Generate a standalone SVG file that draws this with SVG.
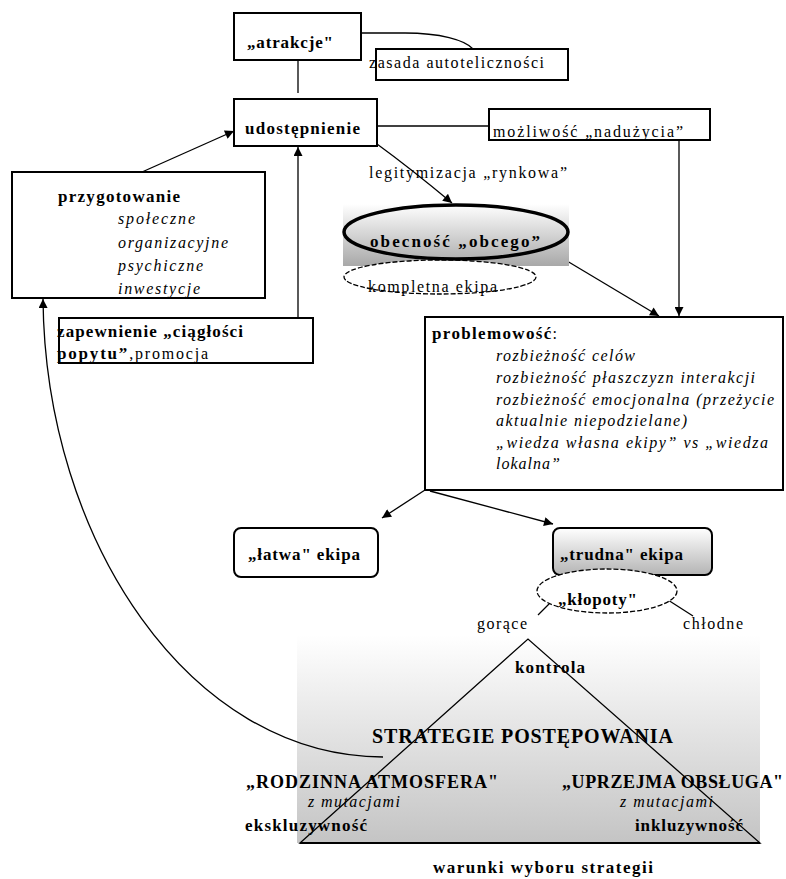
<svg xmlns="http://www.w3.org/2000/svg" width="786" height="879" viewBox="0 0 786 879">
<defs>
<style>
text{font-family:"Liberation Serif","Times New Roman",serif;fill:#000;}
.b{font-weight:bold;font-size:17px;}
.n{font-size:16px;}
.i{font-style:italic;font-size:16px;}
.box{fill:#fff;stroke:#000;stroke-width:2;}
.ln{fill:none;stroke:#000;stroke-width:1.3;}
.dash{fill:#fff;stroke:#000;stroke-width:1.3;stroke-dasharray:5 2;}
</style>
<marker id="arr" viewBox="0 0 10 10" refX="10" refY="5" markerWidth="10" markerHeight="9" markerUnits="userSpaceOnUse" orient="auto"><path d="M0,0 L10,5 L0,10 z" fill="#000"/></marker>
<linearGradient id="g1" x1="0" y1="0" x2="0" y2="1"><stop offset="0" stop-color="#ffffff"/><stop offset="1" stop-color="#a8a8a8"/></linearGradient>
<linearGradient id="g2" x1="0" y1="0" x2="0" y2="1"><stop offset="0" stop-color="#ffffff"/><stop offset="1" stop-color="#b4b4b4"/></linearGradient>
<linearGradient id="g3" x1="0" y1="0" x2="0" y2="1"><stop offset="0" stop-color="#ffffff"/><stop offset="1" stop-color="#c4c4c4"/></linearGradient>
</defs>
<rect width="786" height="879" fill="#fff"/>

<g id="strategie">
<rect x="297" y="635" width="463" height="208" fill="url(#g3)"/>
<path d="M300,843 L528,639 L760,843 Z" class="ln"/>
<line x1="300" y1="843" x2="760" y2="843" stroke="#000" stroke-width="2"/>
<text class="b" x="515" y="673" textLength="70" lengthAdjust="spacing">kontrola</text>
<text x="372" y="743" font-size="20" font-weight="bold" textLength="301" lengthAdjust="spacing">STRATEGIE POSTĘPOWANIA</text>
<text x="246" y="788" font-size="18" font-weight="bold" textLength="252" lengthAdjust="spacing">„RODZINNA ATMOSFERA"</text>
<text x="562" y="788" font-size="18" font-weight="bold" textLength="221" lengthAdjust="spacing">„UPRZEJMA OBSŁUGA"</text>
<text class="i" x="308" y="807" textLength="92" lengthAdjust="spacing">z mutacjami</text>
<text class="i" x="620" y="807" textLength="93" lengthAdjust="spacing">z mutacjami</text>
<text class="b" x="245" y="831" textLength="122" lengthAdjust="spacing">ekskluzywność</text>
<text class="b" x="635" y="831" textLength="108" lengthAdjust="spacing">inkluzywność</text>
<text class="b" x="433" y="873" textLength="220" lengthAdjust="spacing">warunki wyboru strategii</text>
</g>

<g id="connectors">
<path class="ln" d="M361,33 L405,33 C440,33 465,40 473,49"/>
<line class="ln" x1="298" y1="60" x2="298" y2="93" stroke-width="1.6"/>
<line class="ln" x1="377" y1="126" x2="489" y2="126" stroke-width="1.6"/>
<line class="ln" x1="679" y1="140" x2="679" y2="316" stroke-width="1.6" marker-end="url(#arr)"/>
<path class="ln" d="M377,144 Q410,168 452,203" marker-end="url(#arr)"/>
<line class="ln" x1="557" y1="255" x2="659" y2="316" marker-end="url(#arr)"/>
<line class="ln" x1="298" y1="318" x2="298" y2="147" stroke-width="1.6" marker-end="url(#arr)"/>
<line class="ln" x1="142" y1="172" x2="234" y2="131" marker-end="url(#arr)"/>
<line class="ln" x1="425" y1="490" x2="382" y2="518" marker-end="url(#arr)"/>
<line class="ln" x1="430" y1="491" x2="553" y2="524" marker-end="url(#arr)"/>
<line class="ln" x1="552" y1="601" x2="538" y2="615"/>
<line class="ln" x1="668" y1="600" x2="693" y2="616"/>
<path class="ln" d="M383,757 C190,757 45,540 43,299" marker-end="url(#arr)"/>
</g>

<g id="atrakcje">
<rect class="box" x="234" y="13" width="127" height="47"/>
<text class="b" x="247" y="48" textLength="86" lengthAdjust="spacing">„atrakcje"</text>
</g>

<g id="zasada">
<rect class="box" x="376" y="49" width="192" height="31"/>
<text class="n" x="369" y="68" textLength="175" lengthAdjust="spacing">zasada autoteliczności</text>
</g>

<g id="udostepnienie">
<rect class="box" x="234" y="99" width="143" height="47"/>
<text class="b" x="245" y="134" textLength="115" lengthAdjust="spacing">udostępnienie</text>
</g>

<g id="mozliwosc">
<rect class="box" x="489" y="109" width="221" height="31"/>
<text class="n" x="493" y="137" textLength="190" lengthAdjust="spacing">możliwość „nadużycia”</text>
</g>

<g id="legitymizacja">
<text class="n" x="369" y="178" textLength="198" lengthAdjust="spacing">legitymizacja „rynkowa”</text>
</g>

<g id="obecnosc">
<rect x="343" y="204" width="226" height="62" fill="url(#g1)"/>
<ellipse class="dash" cx="440" cy="277" rx="96" ry="17"/>
<ellipse cx="456" cy="232" rx="112" ry="27" fill="none" stroke="#000" stroke-width="3.5"/>
<text class="b" x="370" y="247" textLength="170" lengthAdjust="spacing">obecność „obcego”</text>
<text class="n" x="368" y="292" textLength="129" lengthAdjust="spacing">kompletna ekipa</text>
</g>

<g id="przygotowanie">
<rect class="box" x="12" y="172" width="253" height="126"/>
<text class="b" x="58" y="202" textLength="122" lengthAdjust="spacing">przygotowanie</text>
<text class="i" x="118" y="224" textLength="77" lengthAdjust="spacing">społeczne</text>
<text class="i" x="118" y="248" textLength="110" lengthAdjust="spacing">organizacyjne</text>
<text class="i" x="118" y="271" textLength="85" lengthAdjust="spacing">psychiczne</text>
<text class="i" x="118" y="294" textLength="82" lengthAdjust="spacing">inwestycje</text>
</g>

<g id="zapewnienie">
<rect class="box" x="59" y="318" width="254" height="45"/>
<text class="b" x="57" y="337" textLength="186" lengthAdjust="spacing">zapewnienie „ciągłości</text>
<text x="57" y="359" textLength="151" lengthAdjust="spacing"><tspan class="b">popytu”</tspan><tspan class="n">,promocja</tspan></text>
</g>

<g id="problemowosc">
<rect class="box" x="425" y="317" width="358" height="173"/>
<text x="432" y="339" textLength="125" lengthAdjust="spacing"><tspan class="b">problemowość</tspan><tspan class="n">:</tspan></text>
<text class="i" x="496" y="361" textLength="139" lengthAdjust="spacing">rozbieżność celów</text>
<text class="i" x="496" y="383" textLength="259" lengthAdjust="spacing">rozbieżność płaszczyzn interakcji</text>
<text class="i" x="496" y="405" textLength="278" lengthAdjust="spacing">rozbieżność emocjonalna (przeżycie</text>
<text class="i" x="496" y="426" textLength="191" lengthAdjust="spacing">aktualnie niepodzielane)</text>
<text class="i" x="496" y="448" textLength="272" lengthAdjust="spacing">„wiedza własna ekipy” vs „wiedza</text>
<text class="i" x="496" y="469" textLength="64" lengthAdjust="spacing">lokalna”</text>
</g>

<g id="latwa">
<rect class="box" x="234" y="528" width="144" height="49" rx="7"/>
<text class="b" x="248" y="560" textLength="112" lengthAdjust="spacing">„łatwa" ekipa</text>
</g>

<g id="trudna">
<rect x="553" y="528" width="159" height="47" rx="7" fill="url(#g2)" stroke="#000" stroke-width="2"/>
<text class="b" x="560" y="560" textLength="123" lengthAdjust="spacing">„trudna" ekipa</text>
</g>

<g id="klopoty">
<ellipse class="dash" cx="607" cy="591" rx="70" ry="22"/>
<text class="b" x="558" y="605" textLength="79" lengthAdjust="spacing">„kłopoty"</text>
</g>

<g id="gorace">
<text class="n" x="477" y="629" textLength="50" lengthAdjust="spacing">gorące</text>
</g>

<g id="chlodne">
<text class="n" x="683" y="629" textLength="60" lengthAdjust="spacing">chłodne</text>
</g>
</svg>
